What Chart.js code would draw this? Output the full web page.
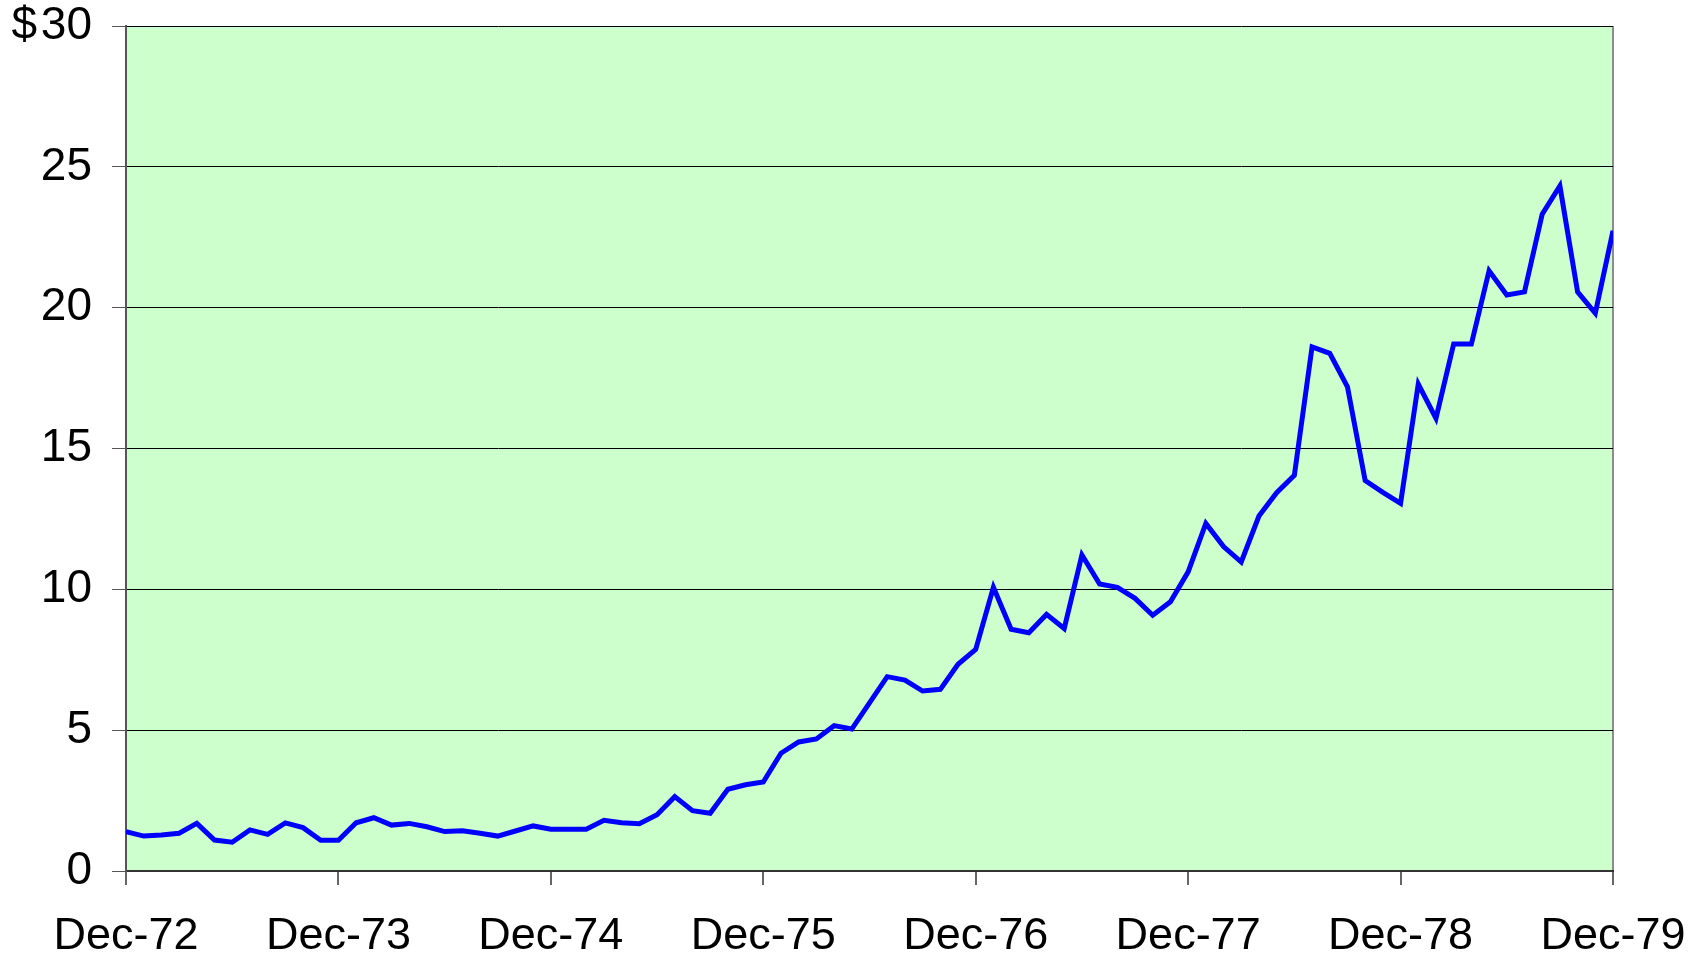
<!DOCTYPE html>
<html>
<head>
<meta charset="utf-8">
<title>Monthly price, Dec-72 to Dec-79</title>
<script src="https://cdn.jsdelivr.net/npm/chart.js@4/dist/chart.umd.min.js"></script>
<style>
  html, body { margin: 0; padding: 0; background: #ffffff; }
  #wrap { width: 1700px; height: 958px; }
</style>
</head>
<body>
<div id="wrap"><canvas id="chart" width="1700" height="958"></canvas></div>
<script>
// one value per month, Dec-72 .. Dec-79 (85 points)
const prices = [
  1.40, 1.24, 1.28, 1.34, 1.69, 1.10, 1.02, 1.46, 1.30, 1.71, 1.54, 1.09,
  1.09, 1.71, 1.89, 1.63, 1.69, 1.57, 1.40, 1.43, 1.34, 1.24, 1.42, 1.60,
  1.48, 1.48, 1.48, 1.80, 1.71, 1.68, 2.00, 2.64, 2.14, 2.05, 2.90, 3.06,
  3.16, 4.18, 4.58, 4.69, 5.16, 5.04, 5.97, 6.90, 6.78, 6.39, 6.45, 7.34,
  7.87, 10.07, 8.58, 8.46, 9.11, 8.61, 11.22, 10.19, 10.07, 9.68, 9.08, 9.56,
  10.62, 12.34, 11.52, 10.97, 12.60, 13.43, 14.05, 18.61, 18.38, 17.19, 13.86, 13.44,
  13.05, 17.29, 16.07, 18.71, 18.71, 21.31, 20.45, 20.56, 23.32, 24.32, 20.56, 19.80,
  22.73
];
const yearLabels = ['Dec-72', 'Dec-73', 'Dec-74', 'Dec-75', 'Dec-76', 'Dec-77', 'Dec-78', 'Dec-79'];
const yTicks = [0, 5, 10, 15, 20, 25, 30];

const FONT = "'Liberation Sans', Arial, sans-serif";

// green plot background
const plotFill = {
  id: 'plotFill',
  beforeDraw(chart) {
    const { ctx, chartArea: a } = chart;
    ctx.save();
    ctx.fillStyle = '#ccffcc';
    ctx.fillRect(a.left, a.top, a.right - a.left, a.bottom - a.top);
    ctx.restore();
  }
};

new Chart(document.getElementById('chart'), {
  type: 'line',
  data: {
    datasets: [{
      data: prices.map((v, i) => ({ x: i, y: v })),
      borderColor: '#0000ff',
      borderWidth: 5,
      pointRadius: 0,
      tension: 0,
      fill: false
    }]
  },
  options: {
    responsive: false,
    animation: false,
    events: [],
    layout: { padding: { top: 26, right: 87, left: 0, bottom: 0 } },
    plugins: { legend: { display: false }, tooltip: { enabled: false } },
    scales: {
      x: {
        type: 'linear',
        min: 0,
        max: 84,
        afterFit: s => {
          s.height = 87;
          s.paddingLeft = 0;
          s.paddingRight = 0;
        },
        afterBuildTicks: s => { s.ticks = yearLabels.map((_, i) => ({ value: i * 12 })); },
        ticks: {
          autoSkip: false,
          maxRotation: 0,
          padding: 25,
          color: '#000',
          font: { family: FONT, size: 45 },
          callback: v => yearLabels[v / 12]
        },
        grid: {
          drawOnChartArea: true,
          color: c => (c.index === yearLabels.length - 1 ? '#8c8c8c' : 'rgba(0,0,0,0)'),
          lineWidth: 2,
          tickColor: '#333',
          tickWidth: 1.5,
          tickLength: 14
        },
        border: { color: '#333', width: 2 }
      },
      y: {
        min: 0,
        max: 30,
        afterFit: s => {
          s.width = 126;
          s.paddingTop = 0;
          s.paddingBottom = 0;
        },
        afterBuildTicks: s => { s.ticks = yTicks.map(v => ({ value: v })); },
        ticks: {
          padding: 20,
          color: '#000',
          font: { family: FONT, size: 46 },
          callback: v => (v === 30 ? '$\u200A30' : String(v))
        },
        grid: {
          color: '#000',
          lineWidth: 1,
          tickColor: '#555',
          tickLength: 14
        },
        border: { color: '#555', width: 2 }
      }
    }
  },
  plugins: [plotFill]
});
</script>
</body>
</html>
